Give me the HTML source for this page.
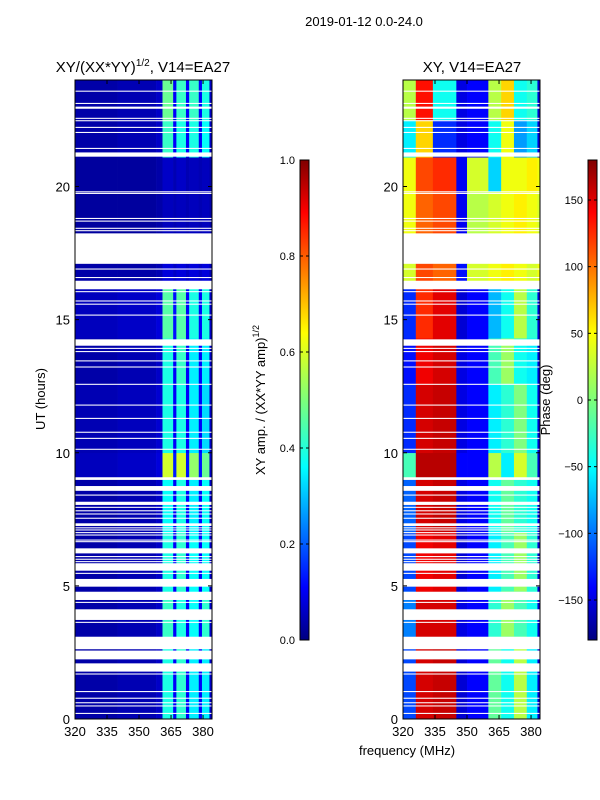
<!DOCTYPE html>
<html><head><meta charset="utf-8"><style>
body{margin:0;background:#fff;}
svg{display:block;font-family:"Liberation Sans",sans-serif;}
</style></head><body>
<svg id="c" width="600" height="800">
<defs>
<linearGradient id="jet" x1="0" y1="1" x2="0" y2="0">
<stop offset="0" stop-color="#000080"/><stop offset="0.11" stop-color="#0000ff"/>
<stop offset="0.36" stop-color="#00ffff"/><stop offset="0.5" stop-color="#7dff7a"/><stop offset="0.64" stop-color="#ffff00"/>
<stop offset="0.89" stop-color="#ff0000"/><stop offset="1" stop-color="#800000"/>
</linearGradient>
</defs>
</svg>
<script>
// ---- data ----
const ampFreqEdges=[320,340,358,361,366,367.5,372,373.5,378,379.5,383,384.2];
const phaseFreqEdges=[320,326,334,345,350,360,366,372,378,383,384.2];
const timeBands=[[0,3.1],[3.1,4.8],[4.8,7],[7,9],[9,10],[10,12.6],[12.6,14.3],[14.3,16.2],[16.2,17.1],[18.2,19.8],[19.8,21.1],[21.1,22.5],[22.5,24]];
const ampValues=[
[0.04,0.05,0.07,0.4,0.12,0.42,0.12,0.36,0.12,0.36,0.07],
[0.04,0.05,0.07,0.43,0.12,0.4,0.12,0.38,0.12,0.42,0.07],
[0.04,0.05,0.07,0.4,0.12,0.42,0.12,0.38,0.12,0.38,0.07],
[0.04,0.05,0.07,0.38,0.12,0.4,0.12,0.36,0.12,0.38,0.07],
[0.06,0.07,0.09,0.58,0.15,0.58,0.14,0.52,0.14,0.48,0.07],
[0.05,0.06,0.08,0.4,0.12,0.4,0.12,0.36,0.12,0.34,0.07],
[0.04,0.05,0.07,0.4,0.12,0.43,0.12,0.36,0.12,0.36,0.07],
[0.06,0.07,0.09,0.46,0.14,0.46,0.12,0.4,0.12,0.4,0.07],
[0.04,0.04,0.05,0.09,0.07,0.09,0.07,0.09,0.07,0.09,0.05],
[0.03,0.03,0.04,0.06,0.05,0.06,0.05,0.06,0.05,0.06,0.04],
[0.03,0.03,0.04,0.07,0.05,0.07,0.05,0.06,0.05,0.06,0.04],
[0.04,0.05,0.07,0.43,0.12,0.4,0.12,0.4,0.12,0.38,0.07],
[0.04,0.05,0.07,0.48,0.12,0.43,0.12,0.43,0.12,0.4,0.07]];
const phaseValues=[
[-110,150,155,-150,-135,-10,-40,20,-50,-150],
[-90,150,150,-145,-135,-30,10,-20,-40,-150],
[-110,140,145,-150,-135,-50,-20,10,-30,-150],
[-100,150,155,-145,-135,-40,-10,-30,-40,-150],
[-20,160,160,-135,-135,20,-50,30,-20,-150],
[-120,150,155,-145,-135,-50,-30,0,-40,-150],
[-130,140,150,-145,-135,-20,10,-40,-50,-150],
[-120,120,145,-150,-135,-70,-40,20,-30,-150],
[30,110,100,-130,30,40,50,40,30,40],
[40,100,110,-140,20,30,40,50,40,30],
[40,110,120,-140,30,-60,40,40,50,40],
[-50,60,-120,-145,-135,-40,40,-80,-60,-150],
[20,130,-40,-145,-135,20,60,-40,-30,-150]];
const flags=[[23.56,23.6],[23.1,23.14],[22.92,23.0],[22.54,22.58],[22.45,22.49],[22.2,22.24],[22.01,22.05],[21.41,21.45],[21.12,21.28],[19.78,19.82],[19.72,19.76],[18.78,18.82],[18.68,18.72],[18.41,18.45],[18.32,18.36],[17.1,18.24],[16.88,16.92],[16.56,16.6],[16.14,16.46],[16.03,16.07],[15.68,15.72],[15.56,15.6],[15.15,15.19],[14.02,14.26],[13.9,13.94],[13.78,13.82],[13.43,13.47],[13.2,13.24],[12.55,12.59],[11.77,11.81],[11.27,11.31],[10.75,10.79],[10.52,10.56],[10.11,10.15],[8.98,9.08],[8.57,8.75],[8.39,8.43],[8.04,8.16],[7.93,7.97],[7.8,7.84],[7.68,7.72],[7.52,7.56],[7.25,7.35],[7.16,7.2],[7.08,7.12],[6.98,7.02],[6.89,6.93],[6.7,6.74],[6.64,6.68],[6.22,6.41],[6.08,6.12],[5.98,6.02],[5.89,5.93],[5.57,5.85],[5.45,5.49],[4.97,5.26],[4.47,4.78],[4.36,4.4],[3.72,4.12],[3.61,3.65],[2.62,3.09],[2.24,2.57],[1.78,2.09],[1.67,1.71],[1.01,1.05],[0.76,0.8],[0.59,0.63],[0.47,0.51],[0.19,0.23]];
const yTicks=[0,5,10,15,20];
const xTicks=[320,335,350,365,380];
const ampTicks=[0.0,0.2,0.4,0.6,0.8,1.0];
const phaseTicks=[-150,-100,-50,0,50,100,150];

// ---- scales ----
const NS="http://www.w3.org/2000/svg";
const svg=document.getElementById('c');
const yH=h=>719-h*639/24;
const xL=f=>75+(f-320)*137/64.2;
const xR=f=>403+(f-320)*137/64.2;
function jet(v){v=Math.max(0,Math.min(1,v));
 const r=Math.max(0,Math.min(1,1.5-Math.abs(4*v-3)));
 const g=Math.max(0,Math.min(1,1.5-Math.abs(4*v-2)));
 const b=Math.max(0,Math.min(1,1.5-Math.abs(4*v-1)));
 return `rgb(${Math.round(r*255)},${Math.round(g*255)},${Math.round(b*255)})`;}
function el(t,a,p){const e=document.createElementNS(NS,t);for(const k in a)e.setAttribute(k,a[k]);(p||svg).appendChild(e);return e;}
function txt(s,a,p){const e=el('text',a,p);e.textContent=s;return e;}

// phase label hidden behind right panel
const pl=txt('Phase (deg)',{x:0,y:0,'font-size':13,'text-anchor':'middle',transform:'translate(550,400) rotate(-90)'});



function panel(xs,edges,vals,norm,name){
 const g=el('g',{});
 
 
 el('rect',{x:xs(320),y:80,width:137,height:639,fill:'#fff'},g);
 timeBands.forEach((b,i)=>{
  for(let j=0;j<edges.length-1;j++){
   const r=el('rect',{x:xs(edges[j]),y:yH(b[1]),width:xs(edges[j+1])-xs(edges[j])+0.3,height:yH(b[0])-yH(b[1])+0.3,fill:jet(norm(vals[i][j]))},g);
   
   
  }
 });
 flags.forEach(f=>{
  const r=el('rect',{x:xs(320),y:yH(f[1]),width:137,height:Math.max(1,yH(f[0])-yH(f[1])),fill:'#fff'},g);
  
  
 });
 el('rect',{x:xs(320),y:80,width:137,height:639,fill:'none',stroke:'#000','stroke-width':1},g);
 yTicks.forEach(t=>{
  el('line',{x1:xs(320),x2:xs(320)+4,y1:yH(t),y2:yH(t),stroke:'#000'},g);
  el('line',{x1:xs(320)+137,x2:xs(320)+133,y1:yH(t),y2:yH(t),stroke:'#000'},g);
  const l=txt(t,{x:xs(320)-5,y:yH(t)+5,'font-size':13,'text-anchor':'end'},g);
  
  
 });
 xTicks.forEach(t=>{
  el('line',{x1:xs(t),x2:xs(t),y1:719,y2:715,stroke:'#000'},g);
  el('line',{x1:xs(t),x2:xs(t),y1:80,y2:84,stroke:'#000'},g);
  const l=txt(t,{x:xs(t),y:736,'font-size':13,'text-anchor':'middle'},g);
  
  
 });
}
panel(xL,ampFreqEdges,ampValues,v=>v,'amplitude-heatmap');
panel(xR,phaseFreqEdges,phaseValues,v=>(v+180)/360,'phase-heatmap');

function cbar(x,ticks,ty,name){
 const g=el('g',{});
 
 
 el('rect',{x:x,y:160,width:9,height:480,fill:'url(#jet)',stroke:'#000','stroke-width':1},g);
 ticks.forEach(t=>{
  el('line',{x1:x,x2:x+3,y1:ty(t),y2:ty(t),stroke:'#000'},g);
  el('line',{x1:x+9,x2:x+6,y1:ty(t),y2:ty(t),stroke:'#000'},g);
  const l=txt(ticks.length<7?t.toFixed(1):(t<0?'\u2212'+(-t):t),{x:x-5,y:ty(t)+4,'font-size':11,'text-anchor':'end'},g);
  
  
 });
}
cbar(300,ampTicks,v=>640-v*480,'amplitude-colorbar');
cbar(588,phaseTicks,v=>400-v*480/360,'phase-colorbar');

function label(s,a,name,html){const t=txt(s,a);if(html)t.innerHTML=html;return t;}
label('',{x:364,y:26,'font-size':13,'text-anchor':'middle'},'figure-title',"2019-01-12 0.0-24.0");
label('',{x:143,y:72,'font-size':15,'text-anchor':'middle'},'left-panel-title',"XY/(XX*YY)<tspan dy='-6' font-size='10'>1/2</tspan><tspan dy='6'>, V14=EA27</tspan>");
label('XY, V14=EA27',{x:472,y:72,'font-size':15,'text-anchor':'middle'},'right-panel-title');
label('UT (hours)',{x:0,y:0,'font-size':13,'text-anchor':'middle',transform:'translate(45,399) rotate(-90)'},'y-axis-title');
label('',{x:0,y:0,'font-size':13,'text-anchor':'middle',transform:'translate(265,400) rotate(-90)'},'colorbar-axis-title',"XY amp. / (XX*YY amp)<tspan dy='-6' font-size='9'>1/2</tspan>");
label('frequency (MHz)',{x:407,y:755,'font-size':13,'text-anchor':'middle'},'x-axis-title');
</script>
</body></html>
